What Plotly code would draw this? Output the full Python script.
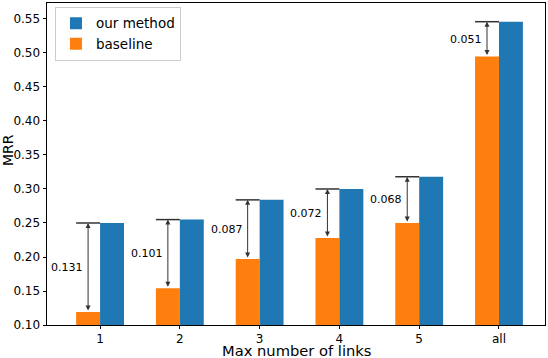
import plotly.graph_objects as go

# values
categories = ["1", "2", "3", "4", "5", "all"]
our_method = [0.250, 0.255, 0.284, 0.300, 0.318, 0.546]
baseline = [0.119, 0.154, 0.197, 0.228, 0.250, 0.495]
gap_labels = ["0.131", "0.101", "0.087", "0.072", "0.068", "0.051"]

blue = "#1f77b4"
orange = "#ff7f0e"
w = 0.3
idx = list(range(len(categories)))

fig = go.Figure()
fig.add_trace(go.Bar(x=[i - w / 2 for i in idx], y=baseline, width=w,
                     marker=dict(color=orange, line=dict(width=0)), name="baseline"))
fig.add_trace(go.Bar(x=[i + w / 2 for i in idx], y=our_method, width=w,
                     marker=dict(color=blue, line=dict(width=0)), name="our method"))

# gap arrows, caps and labels
for i, (o, b, lab) in enumerate(zip(our_method, baseline, gap_labels)):
    xc = i - w / 2
    fig.add_shape(type="line", x0=i - w, x1=i, y0=o, y1=o,
                  line=dict(color="#333333", width=1.5))
    fig.add_annotation(x=xc, y=o, ax=xc, ay=b, xref="x", yref="y", axref="x", ayref="y",
                       text="", showarrow=True, arrowhead=2, startarrowhead=2,
                       arrowside="end+start", arrowsize=1, arrowwidth=1, arrowcolor="#333333",
                       standoff=0, startstandoff=0)
    fig.add_annotation(x=xc, y=(o + b) / 2, xref="x", yref="y", text=lab, showarrow=False,
                       xanchor="right", yanchor="middle", xshift=-3,
                       font=dict(size=11, color="black"))

# axis titles placed by hand so the margins stay tight
fig.add_annotation(x=0.5, y=0, xref="paper", yref="paper", text="Max number of links",
                   showarrow=False, xanchor="center", yanchor="middle", yshift=-25,
                   font=dict(size=14.7, color="black"))
fig.add_annotation(x=0, y=0.5, xref="paper", yref="paper", text="MRR", textangle=-90,
                   showarrow=False, xanchor="center", yanchor="middle", xshift=-39, yshift=14,
                   font=dict(size=14, color="black"))

fig.update_layout(
    width=548, height=358,
    margin=dict(l=47, r=3, t=3, b=33),
    barmode="overlay",
    plot_bgcolor="white", paper_bgcolor="white",
    font=dict(family="DejaVu Sans", color="black", size=12),
    legend=dict(x=0.016, y=0.988, xanchor="left", yanchor="top",
                traceorder="reversed", bordercolor="#cccccc", borderwidth=1,
                bgcolor="white", font=dict(size=13.5)),
    showlegend=True,
)
fig.update_xaxes(range=[-0.665, 5.577], tickmode="array", tickvals=idx, ticktext=categories,
                 showgrid=False, zeroline=False, showline=True, linecolor="black", linewidth=1,
                 mirror=True, ticks="outside", ticklen=3, tickcolor="black", automargin=False)
fig.update_yaxes(range=[0.10, 0.5735], tickmode="array",
                 tickvals=[0.10, 0.15, 0.20, 0.25, 0.30, 0.35, 0.40, 0.45, 0.50, 0.55],
                 tickformat=".2f",
                 showgrid=False, zeroline=False, showline=True, linecolor="black", linewidth=1,
                 mirror=True, ticks="outside", ticklen=3.5, tickcolor="black", automargin=False)

fig.write_html("out.html", config={"displayModeBar": False},
               post_script="document.body.style.margin='0';")
